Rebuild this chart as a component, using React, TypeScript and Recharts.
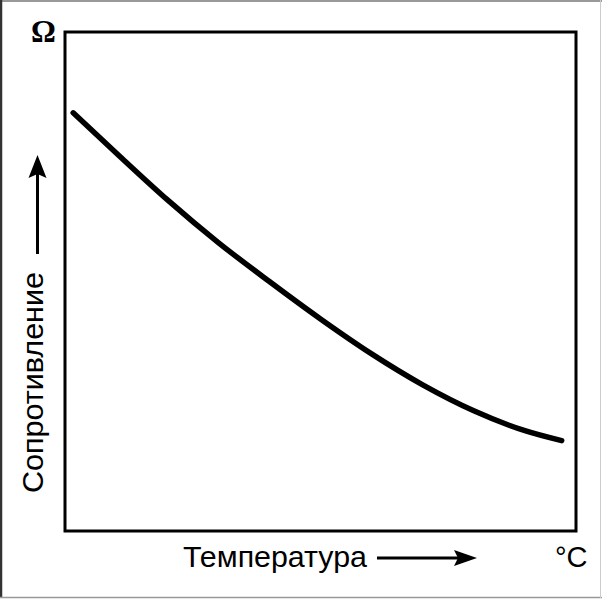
import React from 'react';
import { LineChart, Line, XAxis, YAxis, ReferenceArea, Customized } from 'recharts';

// Temperature (relative, 0..100) vs resistance (relative, 0..100)
const temperature = [1.6, 10.8, 20, 30, 40, 50, 60, 70, 80, 90, 97.2];
const resistance = [83.8, 75.0, 66.4, 57.8, 50.0, 42.5, 35.5, 29.3, 24.1, 20.1, 18.1];

const xLabel = 'Температура';
const yLabel = 'Сопротивление';
const xUnit = '°C';
const yUnit = 'Ω';

const data = temperature.map((t, i) => ({ t, r: resistance[i] }));

const FONT = '"Liberation Sans", Arial, Helvetica, sans-serif';

const Decorations = () => (
  <g>
    {/* page frame */}
    <line x1={0} y1={1} x2={602} y2={1} stroke="#777" strokeWidth={1.5} />
    <line x1={1} y1={0} x2={1} y2={598} stroke="#333" strokeWidth={2.5} />
    <line x1={0} y1={597.5} x2={602} y2={597.5} stroke="#999" strokeWidth={1.5} />
    <line x1={600.5} y1={0} x2={600.5} y2={598} stroke="#ccc" strokeWidth={1} />

    {/* Ω unit */}
    <text x={31} y={42} fontFamily='"Liberation Serif", "DejaVu Serif", serif' fontWeight="bold" fontSize={31} fill="#000">
      {yUnit}
    </text>

    {/* y label + arrow */}
    <text
      x={43}
      y={382.5}
      transform="rotate(-90, 43, 382.5)"
      textAnchor="middle"
      fontFamily={FONT}
      fontSize={29}
      fill="#000"
      textLength={221}
      lengthAdjust="spacingAndGlyphs"
    >
      {yLabel}
    </text>
    <line x1={37.5} y1={254} x2={37.5} y2={172} stroke="#000" strokeWidth={3} />
    <polygon points="37.5,155 28.5,178 37.5,174 46.5,178" fill="#000" />

    {/* x label + arrow */}
    <text
      x={183}
      y={567}
      fontFamily={FONT}
      fontSize={29}
      fill="#000"
      textLength={184}
      lengthAdjust="spacingAndGlyphs"
    >
      {xLabel}
    </text>
    <line x1={377} y1={558} x2={460} y2={558} stroke="#000" strokeWidth={3} />
    <polygon points="477,558 454,550 458,558 454,566" fill="#000" />

    {/* °C unit */}
    <text x={555} y={567} fontFamily={FONT} fontSize={29} fill="#000">
      {xUnit}
    </text>
  </g>
);

export default function App() {
  return (
    <div style={{ position: 'absolute', left: 0, top: 0, width: 602, height: 600, background: '#fff' }}>
      <LineChart width={602} height={600} data={data} margin={{ top: 32, right: 26, bottom: 69, left: 65 }}>
        <XAxis dataKey="t" type="number" domain={[0, 100]} hide />
        <YAxis type="number" domain={[0, 100]} hide />
        <ReferenceArea x1={0} x2={100} y1={0} y2={100} fill="none" stroke="#000" strokeWidth={3} ifOverflow="extendDomain" />
        <Line
          type="monotone"
          dataKey="r"
          stroke="#000"
          strokeWidth={5.5}
          strokeLinecap="round"
          dot={false}
          isAnimationActive={false}
        />
        <Customized component={Decorations} />
      </LineChart>
    </div>
  );
}
